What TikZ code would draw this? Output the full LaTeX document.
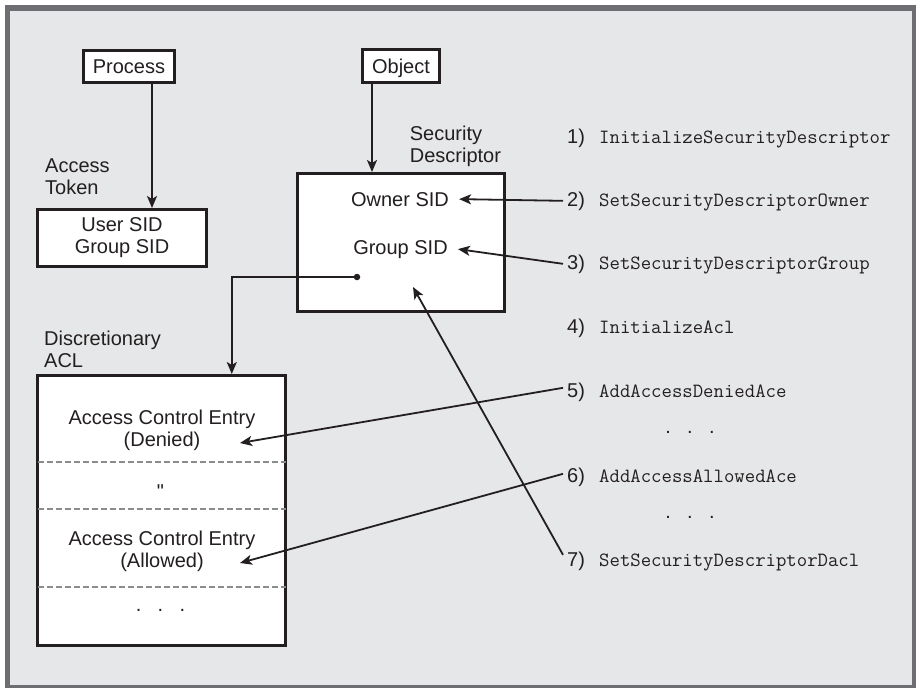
\documentclass[tikz,border=0pt]{standalone}
\usepackage{fontspec}
\setmainfont{Liberation Sans}
\usetikzlibrary{arrows.meta,calc}
\definecolor{bgfill}{HTML}{E6E7E8}
\definecolor{framecol}{HTML}{6D6E71}
\definecolor{ink}{HTML}{231F20}
\definecolor{dashcol}{HTML}{8A8C8E}
\begin{document}
\begin{tikzpicture}[x=1pt,y=-1pt,
  box/.style={draw=ink,line width=2.8pt,fill=white,inner sep=0pt},
  sans/.style={font=\fontsize{20}{22}\selectfont,text=ink,inner sep=0pt},
  mono/.style={font=\fontsize{20.2}{22}\selectfont\ttfamily,text=ink,inner sep=0pt},
  numlbl/.style={font=\fontsize{20}{22}\selectfont,text=ink,inner xsep=4pt,inner ysep=0pt,anchor=base west},
  arr/.style={draw=ink,line width=1.8pt,-{Stealth[length=12pt,width=10pt,inset=3pt]}},
  sep/.style={draw=dashcol,line width=1.8pt,dash pattern=on 6pt off 3pt}]
\useasboundingbox (0,0) rectangle (916,688);
\fill[white] (0,0) rectangle (916,688);
\fill[framecol] (5,5) rectangle (916,688);
\fill[bgfill] (10,11) rectangle (912,685);

% boxes
\node[box,sans,minimum width=91.2pt,minimum height=32.2pt,text height=14pt,text depth=0pt] (proc) at (129,66.5) {Process};
\node[box,sans,minimum width=77.2pt,minimum height=33.2pt,text height=14pt,text depth=0pt] (obj) at (401,66) {Object};
\node[box,sans,align=center,minimum width=169.2pt,minimum height=57.2pt,yshift=-2pt] (tok) at (122,236) {User SID\\Group SID};
\node[box,minimum width=207.2pt,minimum height=138.2pt] (sd) at (401,242.5) {};
\node[box,minimum width=248.2pt,minimum height=270.2pt] (dacl) at (161.5,510.5) {};

% labels
\node[sans,align=left,anchor=north west] (toklbl) at (45,158.6) {Access\\Token};
\node[sans,align=left,anchor=north west] (sdlbl) at (409.7,125.6) {Security\\Descriptor};
\node[sans,align=left,anchor=north west] (dacllbl) at (44,330.6) {Discretionary\\ACL};

% security descriptor contents
\node[sans,anchor=base] (owner) at (400,206) {Owner SID};
\node[sans,anchor=base] (group) at (400.5,254) {Group SID};
\node[circle,fill=ink,inner sep=0pt,minimum size=6.5pt] (dot) at (357,277) {};
\coordinate (daclTip) at (413,287);

% DACL contents
\draw[sep] (37.5,462) -- (285.5,462);
\draw[sep] (37.5,509) -- (285.5,509);
\draw[sep] (37.5,587) -- (285.5,587);
\node[sans,align=center] (ace1) at (162,430) {Access Control Entry\\(Denied)};
\node[sans,anchor=base] (ditto) at (160.5,498) {\addfontfeature{Ligatures=TeXOff}"};
\node[sans,align=center] (ace2) at (162,551) {Access Control Entry\\(Allowed)};
\node[sans,anchor=base] (more) at (160.5,611.4) {.\hspace{16.4pt}.\hspace{16.4pt}.};
\coordinate (denyTip) at (240,443);
\coordinate (allowTip) at (240,563);

% right column
\node[numlbl] (n1) at (563,143) {1)};
\node[numlbl] (n2) at (563,206) {2)};
\node[numlbl] (n3) at (563,269) {3)};
\node[numlbl] (n4) at (563,333) {4)};
\node[numlbl] (n5) at (563,397) {5)};
\node[numlbl] (n6) at (563,482) {6)};
\node[numlbl] (n7) at (563,566) {7)};
\node[mono,anchor=base west] (c1) at (599,143) {InitializeSecurityDescriptor};
\node[mono,anchor=base west] (c2) at (599,206) {SetSecurityDescriptorOwner};
\node[mono,anchor=base west] (c3) at (599,269) {SetSecurityDescriptorGroup};
\node[mono,anchor=base west] (c4) at (599,333) {InitializeAcl};
\node[mono,anchor=base west] (c5) at (599,397) {AddAccessDeniedAce};
\node[mono,anchor=base west] (c6) at (599,482) {AddAccessAllowedAce};
\node[mono,anchor=base west] (c7) at (599,566) {SetSecurityDescriptorDacl};
\node[sans,anchor=base] (dots1) at (690,433.4) {.\hspace{16.4pt}.\hspace{16.4pt}.};
\node[sans,anchor=base] (dots2) at (690,518.4) {.\hspace{16.4pt}.\hspace{16.4pt}.};

% connectors
\draw[arr] ([xshift=23pt]proc.south) -- ([xshift=23pt]proc.south |- tok.north);
\draw[arr] ([xshift=-29pt]obj.south) -- ([xshift=-29pt]obj.south |- sd.north);
\draw[arr] (dot.center) -| ($(dacl.north west)!0.78!(dacl.north east)$);
\draw[arr] (n2.west) -- ([xshift=10pt]owner.east);
\draw[arr] (n3.west) -- ([xshift=10pt]group.east);
\draw[arr] ([yshift=4pt]n5.west) -- (denyTip);
\draw[arr] ([yshift=3pt]n6.west) -- (allowTip);
\draw[arr] ([yshift=6pt]n7.west) -- (daclTip);
\end{tikzpicture}
\end{document}
